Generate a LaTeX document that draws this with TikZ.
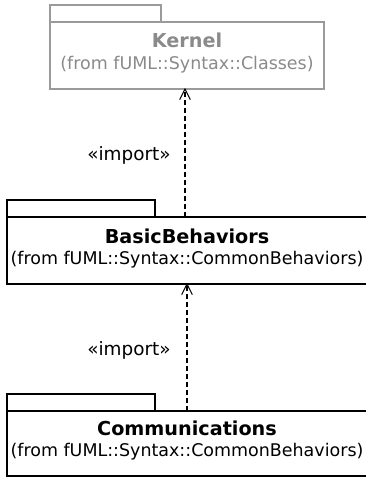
\documentclass[tikz,border=0pt]{standalone}
\usepackage{fontspec}
\setmainfont{DejaVu Sans}
\definecolor{kgray}{HTML}{9A9A9A}
\definecolor{ktext}{HTML}{8A8A8A}
\tikzset{
  pkg/.style={draw, line width=0.9pt, inner sep=0pt, outer sep=0pt, anchor=north west},
  kpkg/.style={pkg, draw=kgray, line width=0.8pt},
  ttl/.style={font=\fontsize{14.4}{16}\selectfont\bfseries, inner sep=0pt},
  sub/.style={font=\fontsize{13.1}{15}\selectfont, inner sep=0pt},
  imp/.style={dash pattern=on 3.6pt off 2.4pt, line width=0.8pt},
  barb/.style={line width=0.8pt, line join=miter},
  lbl/.style={font=\fontsize{13.8}{15}\selectfont, inner sep=0pt}
}
\begin{document}
\begin{tikzpicture}[x=0.75pt,y=-0.75pt]
\useasboundingbox (0,0) rectangle (366,478);
\clip (0,0) rectangle (366,478);
% Kernel
\node[kpkg, minimum width=83.25pt, minimum height=12.75pt] (ktab) at (50,5) {};
\node[kpkg, minimum width=205.5pt, minimum height=50.25pt] (kbody) at (50,22) {};
\node[ttl, text=ktext] (kt) at (187,40) {Kernel};
\node[sub, text=ktext] (ks) at (187,65) {(from fUML::Syntax::Classes)};
% BasicBehaviors
\node[pkg, minimum width=111pt, minimum height=12.75pt] (btab) at (7,200) {};
\node[pkg, minimum width=270pt, minimum height=50.25pt] (bbody) at (7,217) {};
\node[ttl] (bt) at (187,236) {BasicBehaviors};
\node[sub] (bs) at (187,260) {(from fUML::Syntax::CommonBehaviors)};
% Communications
\node[pkg, minimum width=111pt, minimum height=12.75pt] (ctab) at (7,394) {};
\node[pkg, minimum width=270pt, minimum height=48.75pt] (cbody) at (7,411) {};
\node[ttl] (ct) at (187,428) {Communications};
\node[sub] (cs) at (187,452) {(from fUML::Syntax::CommonBehaviors)};
% connectors
\coordinate (x1) at (185,0);
\coordinate (x2) at (187,0);
\coordinate (t1) at (kbody.south -| x1);
\coordinate (t2) at (bbody.south -| x2);
\draw[imp] (bbody.north -| x1) -- (t1);
\draw[imp] (cbody.north -| x2) -- (t2);
\draw[barb] ([xshift=-4pt,yshift=-8pt]t1) -- (t1) -- ([xshift=4pt,yshift=-8pt]t1);
\draw[barb] ([xshift=-4pt,yshift=-8pt]t2) -- (t2) -- ([xshift=4pt,yshift=-8pt]t2);
\node[lbl] (l1) at (129,155) {«import»};
\node[lbl] (l2) at (129,350) {«import»};
\end{tikzpicture}
\end{document}
